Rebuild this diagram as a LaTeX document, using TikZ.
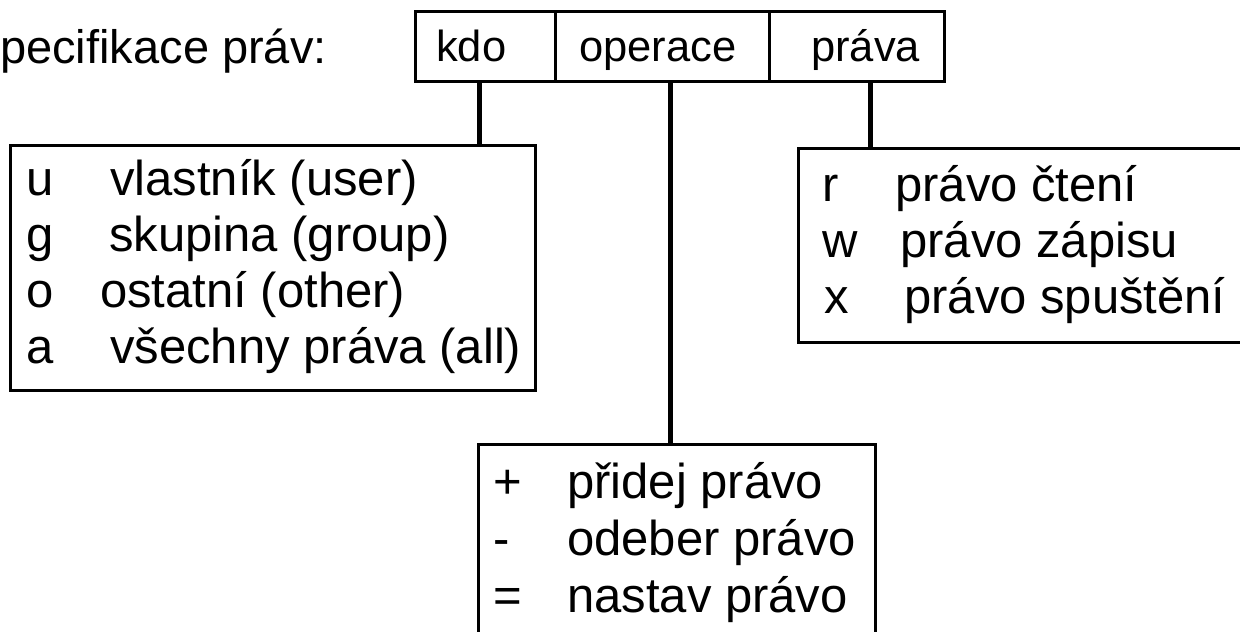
\documentclass[tikz,border=0pt]{standalone}
\usepackage{fontspec}
\setmainfont{Liberation Sans}
\begin{document}
\begin{tikzpicture}[x=1pt,y=-1pt,
  box/.style={draw,line width=3pt,inner sep=0pt,anchor=north west},
  conn/.style={line width=5pt},
  divider/.style={line width=3pt},
  txt/.style={anchor=base west,inner sep=0pt,font=\fontsize{49}{56}\selectfont},
  hdr/.style={anchor=base west,inner sep=0pt,font=\fontsize{43.5}{50}\selectfont},
  ttl/.style={anchor=base west,inner sep=0pt,font=\fontsize{47}{54}\selectfont}]
\useasboundingbox (0,0) rectangle (1240,632);
\fill[white] (0,0) rectangle (1240,632);
\begin{scope}
\clip (0,0) rectangle (1240,632);
% boxes
\node[box,minimum width=529pt,minimum height=70pt] (top) at (414,10) {};
\node[box,minimum width=525pt,minimum height=245pt] (lbox) at (9,144) {};
\node[box,minimum width=470pt,minimum height=194pt] (rbox) at (797,147) {};
\node[box,minimum width=397pt,minimum height=230pt] (bbox) at (477,443) {};
% dividers of the header
\coordinate (d1) at (555,10);
\coordinate (d2) at (769,10);
\draw[divider] (d1) -- (d1 |- top.south);
\draw[divider] (d2) -- (d2 |- top.south);
% connectors
\coordinate (ck) at (479,80);
\coordinate (co) at (670,80);
\coordinate (cp) at (870,80);
\draw[conn] (ck) -- (ck |- lbox.north);
\draw[conn] (co) -- (co |- bbox.north);
\draw[conn] (cp) -- (cp |- rbox.north);
% title
\node[ttl] (title) at (0,63) {pecifikace práv:};
% header texts
\node[hdr] (hkdo) at (436,61) {kdo};
\node[hdr] (hop) at (579,61) {operace};
\node[hdr] (hpr) at (811,61) {práva};
% left box
\node[txt] (lu) at (26,195) {u};
\node[txt] (lg) at (26,251) {g};
\node[txt] (lo) at (26,307) {o};
\node[txt] (la) at (26,363) {a};
\node[txt] (tu) at (110,195) {vlastník (user)};
\node[txt] (tg) at (109,251) {skupina (group)};
\node[txt] (to) at (100,307) {ostatní (other)};
\node[txt] (ta) at (110,363) {všechny práva (all)};
% right box
\node[txt] (rr) at (822,201) {r};
\node[txt] (rw) at (822,257) {w};
\node[txt] (rx) at (824,313) {x};
\node[txt] (tr) at (895,201) {právo čtení};
\node[txt] (tw) at (900,257) {právo zápisu};
\node[txt] (tx) at (904,313) {právo spuštění};
% bottom box
\node[txt] (bp) at (493,498) {+};
\node[txt] (bm) at (493,555) {-};
\node[txt] (be) at (493,612) {=};
\node[txt] (tp) at (567,498) {přidej právo};
\node[txt] (tm) at (567,555) {odeber právo};
\node[txt] (te) at (567,612) {nastav právo};
\end{scope}
\end{tikzpicture}
\end{document}
